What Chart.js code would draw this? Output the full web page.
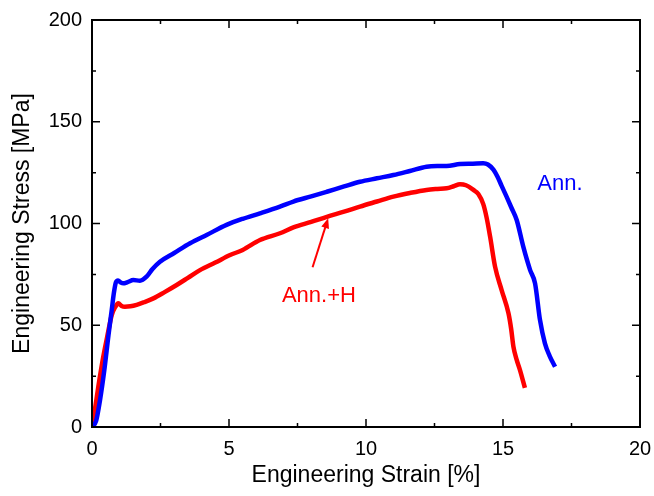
<!DOCTYPE html>
<html>
<head>
<meta charset="utf-8">
<script src="https://cdn.jsdelivr.net/npm/chart.js@4"></script>
<style>
  html, body { margin: 0; padding: 0; background: #fff; }
  #wrap { width: 654px; height: 496px; }
</style>
</head>
<body>
<div id="wrap"><canvas id="c" width="654" height="496"></canvas></div>
<script>
// Ann. (blue)
const annStrain = [0, 0.15, 0.29, 0.45, 0.6, 0.72, 0.8, 0.87, 0.95, 1.05, 1.14, 1.3, 1.51, 1.75, 2.0, 2.2, 2.48, 3.0, 3.58, 4.2, 4.91, 5.5, 6.13, 6.86, 7.35, 8.0, 8.57, 9.2, 9.78, 10.4, 11.0, 11.6, 12.21, 12.6, 12.94, 13.43, 13.9, 14.28, 14.45, 14.65, 14.8, 14.95, 15.13, 15.3, 15.5, 15.74, 15.99, 16.17, 16.35, 16.53, 16.7, 16.9];
const annStress = [0, 3, 13, 28, 45, 57.5, 66, 71, 72, 71, 70.6, 71.2, 72.2, 71.9, 74, 77.5, 81.2, 85.5, 90.3, 94.5, 99.3, 102.3, 105, 108.3, 110.8, 113.3, 115.6, 118.2, 120.5, 122.2, 123.8, 125.8, 127.9, 128.2, 128.2, 129.2, 129.4, 129.6, 129, 126.5, 123, 118.5, 113.2, 108, 101.7, 88.6, 77.1, 70.6, 52.6, 41.1, 35, 29.6];

// Ann.+H (red)
const annHStrain = [0, 0.1, 0.23, 0.41, 0.55, 0.72, 0.85, 0.96, 1.08, 1.2, 1.4, 1.63, 1.9, 2.24, 2.65, 3.09, 3.5, 3.94, 4.5, 5.04, 5.5, 6.13, 6.86, 7.35, 8.0, 8.57, 9.2, 9.78, 10.4, 11.0, 11.6, 12.21, 12.6, 12.94, 13.2, 13.43, 13.65, 13.92, 14.1, 14.28, 14.4, 14.53, 14.71, 14.95, 15.2, 15.3, 15.38, 15.5, 15.62, 15.8];
const annHStress = [0, 8, 19.7, 34.4, 44, 55, 59, 60.8, 59.5, 59.1, 59.3, 60, 61.3, 63.2, 66.3, 69.8, 73.3, 77.1, 80.8, 84.5, 87, 91.9, 95.2, 98.1, 100.8, 103.3, 105.8, 108.3, 110.8, 113.2, 115, 116.5, 117, 117.3, 118.3, 119.3, 118.8, 116.5, 114.5, 109.5, 103, 93.5, 78.8, 67.3, 55.9, 48, 39.5, 33, 28, 19.2];

const xMajor = [0, 5, 10, 15, 20];
const xMinor = [2.5, 7.5, 12.5, 17.5];
const yMajor = [0, 50, 100, 150, 200];
const yMinor = [25, 75, 125, 175];

const FONT = 'Arial, "Liberation Sans", sans-serif';

function toPoints(xs, ys) {
    return xs.map((x, i) => ({ x: x, y: ys[i] }));
}

// frame, inward ticks and the text labels
const framePlugin = {
    id: 'frame',
    afterDraw(chart) {
        const ctx = chart.ctx;
        const xs = chart.scales.x, ys = chart.scales.y;
        const a = chart.chartArea;
        ctx.save();
        ctx.strokeStyle = '#000';
        ctx.lineWidth = 1.5;
        xMajor.concat(xMinor).forEach(v => {
            const len = xMajor.includes(v) ? 8 : 4;
            const px = xs.getPixelForValue(v);
            ctx.beginPath();
            ctx.moveTo(px, a.bottom); ctx.lineTo(px, a.bottom - len);
            ctx.moveTo(px, a.top); ctx.lineTo(px, a.top + len);
            ctx.stroke();
        });
        yMajor.concat(yMinor).forEach(v => {
            const len = yMajor.includes(v) ? 8 : 4;
            const py = ys.getPixelForValue(v);
            ctx.beginPath();
            ctx.moveTo(a.left, py); ctx.lineTo(a.left + len, py);
            ctx.moveTo(a.right, py); ctx.lineTo(a.right - len, py);
            ctx.stroke();
        });
        ctx.lineWidth = 2;
        ctx.strokeRect(a.left, a.top, a.right - a.left, a.bottom - a.top);

        // labels
        ctx.font = '22px ' + FONT;
        ctx.textAlign = 'center';
        ctx.textBaseline = 'middle';
        ctx.fillStyle = '#0000ff';
        ctx.fillText('Ann.', xs.getPixelForValue(17.08), ys.getPixelForValue(119.4));
        ctx.fillStyle = '#ff0000';
        ctx.fillText('Ann.+H', xs.getPixelForValue(8.28), ys.getPixelForValue(64.4));

        // arrow
        const x1 = xs.getPixelForValue(8.05), y1 = ys.getPixelForValue(78.5);
        const x2 = xs.getPixelForValue(8.62), y2 = ys.getPixelForValue(102.6);
        const ang = Math.atan2(y2 - y1, x2 - x1);
        ctx.strokeStyle = '#ff0000';
        ctx.lineWidth = 2;
        ctx.beginPath();
        ctx.moveTo(x1, y1);
        ctx.lineTo(x2 - 6 * Math.cos(ang), y2 - 6 * Math.sin(ang));
        ctx.stroke();
        ctx.beginPath();
        ctx.moveTo(x2, y2);
        ctx.lineTo(x2 - 10 * Math.cos(ang) + 4 * Math.sin(ang), y2 - 10 * Math.sin(ang) - 4 * Math.cos(ang));
        ctx.lineTo(x2 - 10 * Math.cos(ang) - 4 * Math.sin(ang), y2 - 10 * Math.sin(ang) + 4 * Math.cos(ang));
        ctx.closePath();
        ctx.fill();
        ctx.restore();
    }
};

new Chart(document.getElementById('c'), {
    type: 'scatter',
    data: {
        datasets: [
            {
                label: 'Ann.',
                data: toPoints(annStrain, annStress),
                borderColor: '#0000ff',
                showLine: true,
                borderWidth: 4.5,
                pointRadius: 0,
                cubicInterpolationMode: 'monotone'
            },
            {
                label: 'Ann.+H',
                data: toPoints(annHStrain, annHStress),
                borderColor: '#ff0000',
                showLine: true,
                borderWidth: 4.5,
                pointRadius: 0,
                cubicInterpolationMode: 'monotone'
            }
        ]
    },
    options: {
        responsive: false,
        animation: false,
        layout: { padding: { left: 0, right: 14, top: 20, bottom: 0 } },
        plugins: { legend: { display: false }, tooltip: { enabled: false } },
        scales: {
            x: {
                type: 'linear',
                min: 0, max: 20,
                grid: { display: false, drawTicks: false },
                border: { display: false },
                ticks: {
                    stepSize: 5,
                    padding: 10,
                    color: '#000',
                    font: { family: FONT, size: 20 }
                },
                title: {
                    display: true,
                    text: 'Engineering Strain [%]',
                    color: '#000',
                    font: { family: FONT, size: 23 },
                    padding: { top: 0, bottom: 7 }
                },
                afterFit(scale) {
                    scale.height = 69;
                    scale.paddingLeft = 0;
                    scale.paddingRight = 0;
                }
            },
            y: {
                min: 0, max: 200,
                grid: { display: false, drawTicks: false },
                border: { display: false },
                ticks: {
                    stepSize: 50,
                    padding: 10,
                    color: '#000',
                    font: { family: FONT, size: 20 }
                },
                title: {
                    display: true,
                    text: 'Engineering Stress [MPa]',
                    color: '#000',
                    font: { family: FONT, size: 23 },
                    padding: { top: 9, bottom: 0 }
                },
                afterFit(scale) {
                    scale.width = 92;
                    scale.paddingTop = 0;
                    scale.paddingBottom = 0;
                }
            }
        }
    },
    plugins: [framePlugin]
});
</script>
</body>
</html>
